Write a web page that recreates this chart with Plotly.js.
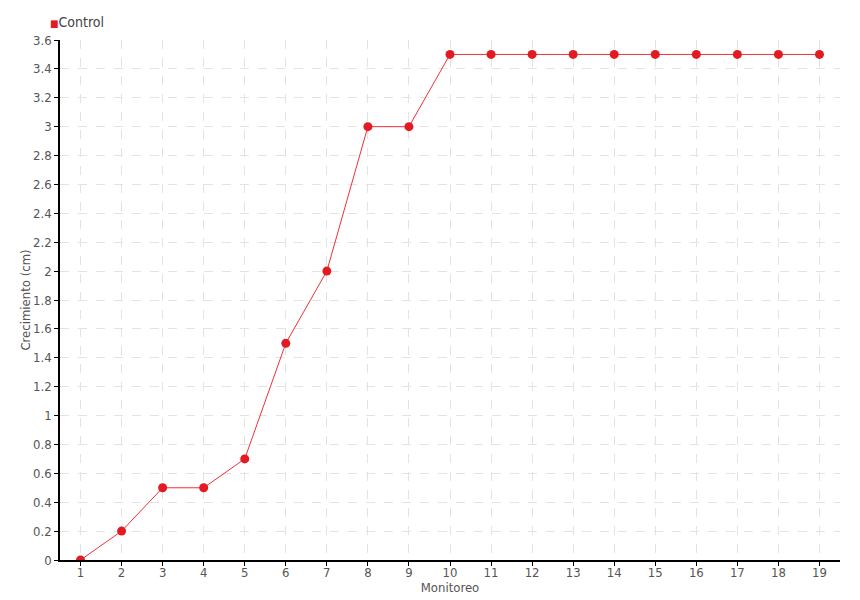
<!DOCTYPE html>
<html><head><meta charset="utf-8">
<script src="https://cdn.plot.ly/plotly-3.0.1.min.js"></script>
<style>body{margin:0;background:#fff}</style>
</head><body><div id="chart" style="width:860px;height:600px"></div>
<script>
const categories = ["1","2","3","4","5","6","7","8","9","10","11","12","13","14","15","16","17","18","19"];
const controlValues = [0,0.2,0.5,0.5,0.7,1.5,2,3,3,3.5,3.5,3.5,3.5,3.5,3.5,3.5,3.5,3.5,3.5];
const seriesName = "Control";
const fontFam = "DejaVu Sans Condensed";
const data = [
  {x: categories, y: controlValues, type: 'scatter', mode: 'lines+markers', showlegend: false,
   line: {color: '#f0303a', width: 1}, marker: {color: '#e31a22', size: 9}, name: seriesName}
];
const layout = {
  width: 860, height: 600,
  margin: {l: 60, r: 20, t: 40, b: 40},
  paper_bgcolor: '#fff', plot_bgcolor: '#fff',
  font: {family: fontFam, color: '#555', size: 13},
  showlegend: false,
  annotations: [{xref: 'paper', yref: 'paper', x: -0.015, y: 1.035, xanchor: 'left', yanchor: 'middle', showarrow: false,
    text: '<span style="color:#e31a22;font-size:10px">■</span>' + seriesName, font: {size: 14, color: '#444'}}],
  xaxis: {type: 'category', range: [-0.5, 18.5], showline: true, linecolor: '#000', linewidth: 1.5, automargin: false,
    ticks: 'outside', ticklen: 4, tickcolor: '#000', showgrid: true, gridcolor: '#e3e3e3', griddash: 'dash',
    ticklabelstandoff: -4,
    zeroline: false, title: {text: 'Monitoreo', standoff: 0, font: {size: 13, color: '#555'}}, tickfont: {size: 13, color: '#555'}},
  yaxis: {range: [0, 3.6], dtick: 0.2, tick0: 0, showline: true, linecolor: '#000', linewidth: 1.5, automargin: false,
    ticks: 'outside', ticklen: 4, tickcolor: '#000', showgrid: true, gridcolor: '#e3e3e3', griddash: 'dash',
    zeroline: false, title: {text: 'Crecimiento (cm)', standoff: 0, font: {size: 13, color: '#555'}}, tickfont: {size: 13, color: '#555'}}
};
Plotly.newPlot('chart', data, layout, {displayModeBar: false});
</script></body></html>
